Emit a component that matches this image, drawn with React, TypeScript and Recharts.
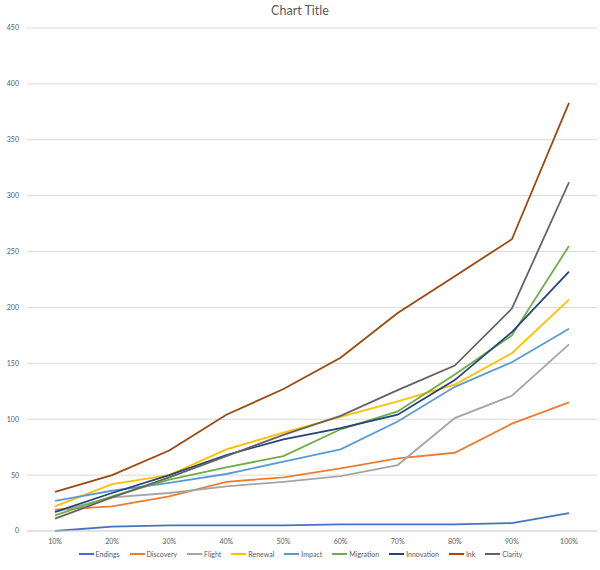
import React from 'react';
import {
    LineChart,
    Line,
    XAxis,
    YAxis,
    CartesianGrid,
    Legend,
} from 'recharts';

const categories = ['10%', '20%', '30%', '40%', '50%', '60%', '70%', '80%', '90%', '100%'];

const endings = [0, 4, 5, 5, 5, 6, 6, 6, 7, 16];
const discovery = [19, 22, 31, 44, 48, 56, 65, 70, 96, 115];
const flight = [17, 30, 34, 40, 44, 49, 59, 101, 121, 167];
const renewal = [22, 42, 50, 73, 88, 102, 116, 131, 159, 207];
const impact = [27, 36, 43, 51, 62, 73, 98, 129, 151, 181];
const migration = [14, 31, 46, 57, 67, 91, 107, 140, 175, 255];
const innovation = [17, 34, 50, 68, 82, 92, 104, 135, 178, 232];
const ink = [35, 50, 72, 104, 127, 155, 195, 228, 261, 383];
const clarity = [11, 30, 48, 67, 86, 103, 126, 148, 199, 312];

const yTicks = [0, 50, 100, 150, 200, 250, 300, 350, 400, 450];

const SERIES = [
    { key: 'Endings', values: endings, color: '#4472C4' },
    { key: 'Discovery', values: discovery, color: '#ED7D31' },
    { key: 'Flight', values: flight, color: '#A5A5A5' },
    { key: 'Renewal', values: renewal, color: '#FFC000' },
    { key: 'Impact', values: impact, color: '#5B9BD5' },
    { key: 'Migration', values: migration, color: '#70AD47' },
    { key: 'Innovation', values: innovation, color: '#264478' },
    { key: 'Ink', values: ink, color: '#9E480E' },
    { key: 'Clarity', values: clarity, color: '#636363' },
];

const FONT = 'Lato, "Open Sans", sans-serif';
const TEXT = '#595959';

// legend in series order, excel-ish spacing
function SeriesLegend() {
    return (
        <div
            style={{
                display: 'flex',
                justifyContent: 'center',
                alignItems: 'center',
                gap: 10,
                fontSize: 7,
                fontFamily: FONT,
                color: TEXT,
                paddingLeft: 4,
                marginTop: 5,
            }}
        >
            {SERIES.map((s) => (
                <div key={s.key} style={{ display: 'flex', alignItems: 'center' }}>
                    <svg width={15} height={6} style={{ marginRight: 2 }}>
                        <line x1={0} y1={3} x2={15} y2={3} stroke={s.color} strokeWidth={2} />
                    </svg>
                    <span>{s.key}</span>
                </div>
            ))}
        </div>
    );
}

export default function App() {
    const data = categories.map((name, i) => {
        const row: Record<string, string | number> = { name };
        SERIES.forEach((s) => {
            row[s.key] = s.values[i];
        });
        return row;
    });

    return (
        <div
            style={{
                position: 'absolute',
                left: 0,
                top: 0,
                width: 600,
                height: 570,
                background: '#fff',
                fontFamily: FONT,
            }}
        >
            <div
                style={{
                    position: 'absolute',
                    top: 3,
                    left: 0,
                    width: 600,
                    textAlign: 'center',
                    fontSize: 12.5,
                    color: TEXT,
                }}
            >
                Chart Title
            </div>
            <LineChart
                width={600}
                height={570}
                data={data}
                margin={{ top: 28, right: 3, left: 0, bottom: 5 }}
            >
                <CartesianGrid vertical={false} stroke="#d9d9d9" />
                <XAxis
                    dataKey="name"
                    height={14}
                    padding={{ left: 28, right: 28 }}
                    tickLine={false}
                    axisLine={{ stroke: '#d9d9d9' }}
                    tick={{ fontSize: 7, fill: TEXT, fontFamily: FONT }}
                    interval={0}
                />
                <YAxis
                    width={27}
                    domain={[0, 450]}
                    ticks={yTicks}
                    tickLine={false}
                    axisLine={false}
                    tick={{ fontSize: 7, fill: TEXT, fontFamily: FONT }}
                />
                <Legend
                    verticalAlign="bottom"
                    align="center"
                    height={20}
                    content={() => <SeriesLegend />}
                />
                {SERIES.map((s) => (
                    <Line
                        key={s.key}
                        type="linear"
                        dataKey={s.key}
                        stroke={s.color}
                        strokeWidth={1.8}
                        dot={false}
                        activeDot={false}
                        isAnimationActive={false}
                    />
                ))}
            </LineChart>
        </div>
    );
}
